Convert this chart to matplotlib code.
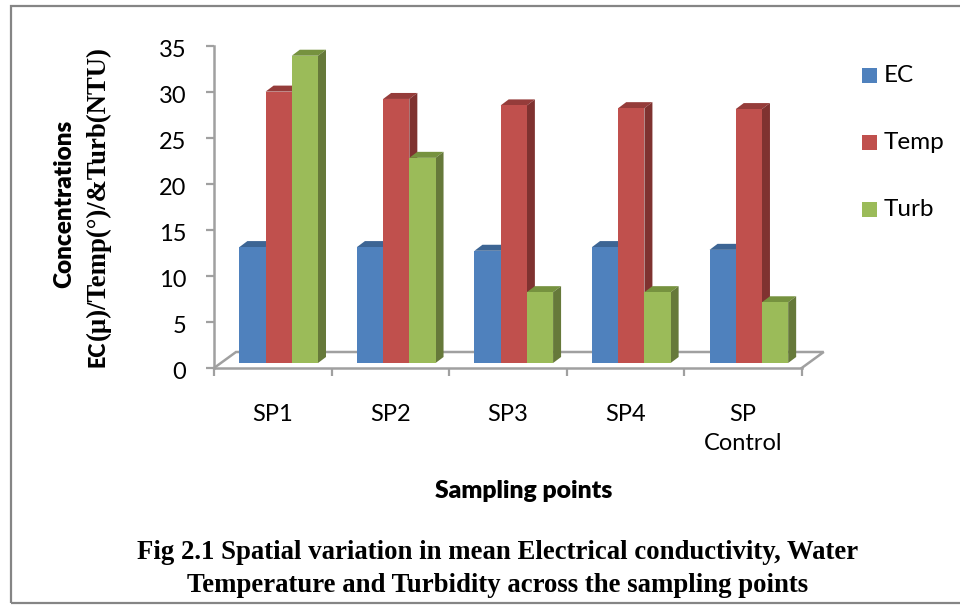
import matplotlib
matplotlib.use("Agg")
import matplotlib.pyplot as plt
from matplotlib.patches import Polygon, Rectangle
from matplotlib.transforms import ScaledTranslation

categories = ["SP1", "SP2", "SP3", "SP4", "SP\nControl"]
ec = [12.6, 12.6, 12.2, 12.6, 12.3]
temp = [29.5, 28.7, 28.0, 27.7, 27.6]
turb = [33.4, 22.3, 7.7, 7.7, 6.6]
series_names = ["EC", "Temp", "Turb"]
yticks = [0, 5, 10, 15, 20, 25, 30, 35]

W, H = 960, 605
L, R, B, T = 214, 801.7, 368, 46
SANS = "Lato"
SERIF = "Liberation Serif"
fig = plt.figure(figsize=(W / 100, H / 100), dpi=100)
ax = fig.add_axes([L / W, 1 - B / H, (R - L) / W, (B - T) / H])
ax.set_xlim(0, 5)
ax.set_ylim(0, 35)
ax.patch.set_alpha(0)
for s in ["top", "right"]:
    ax.spines[s].set_visible(False)
GREY = "#a0a0a0"
for s in ["left", "bottom"]:
    ax.spines[s].set_color(GREY)
    ax.spines[s].set_linewidth(1.8)
ux = (R - L) / 5
uy = (B - T) / 35
ax.set_xticks(range(6))
ax.set_xticklabels([])
ax.set_yticks(yticks)
ax.tick_params(axis="both", color=GREY, width=1.6, length=6)
ax.tick_params(axis="y", labelsize=17, pad=14)
shift = ScaledTranslation(0, -2.5 / 100, fig.dpi_scale_trans)
for t in ax.get_yticklabels():
    t.set_fontfamily(SANS)
    t.set_transform(t.get_transform() + shift)
for i, c in enumerate(categories):
    ax.text(i + 0.5, (368 - 404) / uy, c, ha="center", va="top",
            fontsize=17, family=SANS, linespacing=1.5, clip_on=False)

# floor
fdx, fdy = 22 / ux, 16 / uy
ax.plot([0, fdx, 5 + fdx, 5], [0, fdy, fdy, 0], color=GREY, lw=1.8, clip_on=False, zorder=1,
        solid_joinstyle="miter")

colors = [("#4f81bd", "#3d6594", "#3a618f"),
          ("#c0504d", "#953c3a", "#7f3230"),
          ("#9bbb59", "#76923f", "#66793a")]
bw = 26.2 / ux
start = (239.4 - L) / ux
base = 5 / uy
ddx, ddy = 8 / ux, 6 / uy
z = 3
for i in range(len(categories)):
    for j, vals in enumerate([ec, temp, turb]):
        x0 = i + start + j * bw
        v = vals[i] + base
        fc, tc, sc = colors[j]
        ax.add_patch(Polygon([(x0, v), (x0 + ddx, v + ddy), (x0 + bw + ddx, v + ddy), (x0 + bw, v)],
                             fc=tc, ec="none", zorder=z, clip_on=False))
        ax.add_patch(Polygon([(x0 + bw, base), (x0 + bw + ddx, base + ddy), (x0 + bw + ddx, v + ddy), (x0 + bw, v)],
                             fc=sc, ec="none", zorder=z, clip_on=False))
        z += 1
        ax.bar(x0, vals[i], bw, bottom=base, align="edge", color=fc, zorder=z, clip_on=False)
        z += 1

# legend
for name, col, py in zip(series_names, colors, [75.5, 142.5, 209.5]):
    fig.add_artist(Rectangle((862 / W, 1 - (py + 7.5) / H), 15 / W, 15 / H, fc=col[0], ec="none",
                             transform=fig.transFigure))
    fig.text(884 / W, 1 - py / H, name, fontsize=17.5, family=SANS, va="center", ha="left")

# titles
fig.text(64 / W, 1 - 203.5 / H, "Concentrations", rotation=90, fontsize=17.5, fontweight="heavy",
         family=SANS, ha="center", va="center")
fig.text(98 / W, 1 - 367 / H, "EC", rotation=90, fontsize=15.5, fontweight="heavy",
         family=SANS, ha="center", va="bottom")
fig.text(98 / W, 1 - 340 / H, "(µ)/Temp(°)/&Turb(NTU)", rotation=90, fontsize=19.3, fontweight="bold",
         family=SERIF, ha="center", va="bottom")
fig.text(523.5 / W, 1 - 491 / H, "Sampling points", fontsize=17.8, fontweight="heavy",
         family=SANS, ha="center", va="center")
fig.text(498 / W, 1 - 552.5 / H, "Fig 2.1 Spatial variation in mean Electrical conductivity, Water",
         fontsize=19.25, fontweight="bold", family=SERIF, ha="center", va="center")
fig.text(498 / W, 1 - 585 / H, "Temperature and Turbidity across the sampling points",
         fontsize=19.25, fontweight="bold", family=SERIF, ha="center", va="center")

# outer frame
fig.add_artist(Rectangle((10.5 / W, 1 - 603 / H), 960 / W, 597.5 / H, fc="none", ec="#858585", lw=1.6,
                         transform=fig.transFigure))
fig.savefig("out.png", dpi=100)
